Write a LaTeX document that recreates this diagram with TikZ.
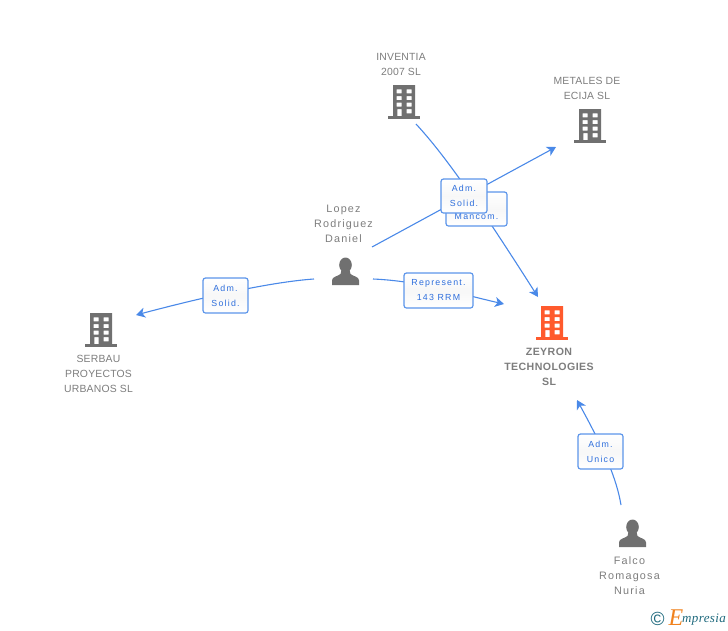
\documentclass[tikz,border=0pt]{standalone}
\usepackage{fontspec}
\setmainfont{Liberation Sans}
\newfontfamily\namefont[LetterSpace=2]{Liberation Sans}
\newfontfamily\lowerfont[LetterSpace=11]{Liberation Sans}
\newfontfamily\boldfont[LetterSpace=4]{Liberation Sans}
\newfontfamily\tagfont[LetterSpace=14]{Liberation Sans}
\newfontfamily\logofont[LetterSpace=3]{Liberation Serif}
\usetikzlibrary{calc, arrows.meta}

\definecolor{linkblue}{RGB}{74,137,232}
\definecolor{tagblue}{RGB}{45,110,220}
\definecolor{icongrey}{RGB}{112,112,112}
\definecolor{textgrey}{RGB}{125,125,125}
\definecolor{zeyronred}{RGB}{255,90,45}
\definecolor{logoteal}{RGB}{30,105,125}
\definecolor{logoorange}{RGB}{240,130,30}

\tikzset{
	link/.style = {draw = linkblue, line width = 1.1pt},
	linkend/.style = {link, -{Stealth[length=9pt, width=10pt, inset=2.5pt]}},
	tag/.style = {draw = linkblue!90, line width = 1.2pt, rounded corners = 2.5pt, top color = white, bottom color = white, middle color = black!3, text = tagblue, align = center, inner sep = 0pt, font = \tagfont\fontsize{8.8}{15}\selectfont},
	namelabel/.style = {text = textgrey, align = center, inner sep = 0pt, font = \namefont\fontsize{10.4}{15}\selectfont},
	personlabel/.style = {namelabel, font = \lowerfont\fontsize{10.8}{15}\selectfont},
	pics/building/.style = {code = {
		\fill [#1, even odd rule] (-11,-17) rectangle (11,14)
			(-7.3,-12.7) rectangle (-2.3,-8.7) (2.7,-12.7) rectangle (7.7,-8.7)
			(-7.3,-6) rectangle (-2.3,-2) (2.7,-6) rectangle (7.7,-2)
			(-7.3,0.7) rectangle (-2.3,4.7) (2.7,0.7) rectangle (7.7,4.7)
			(-6.7,7) rectangle (-2.3,14) (2.7,7) rectangle (7.7,11.3);
		\fill [#1] (-16,14) rectangle (16,16.5);
	}},
	pics/person/.style = {code = {
		\fill [#1] (0,-7) ellipse (6.3 and 7.5);
		\fill [#1] (-13.5,13) -- (-13.5,8.5) .. controls (-13.5,4.5) and (-8,4.5) .. (-5,2) -- (-4,-2) -- (4,-2) -- (5,2) .. controls (8,4.5) and (13.5,4.5) .. (13.5,8.5) -- (13.5,13) -- cycle;
	}}
}

\begin{document}
\begin{tikzpicture}[x = 1pt, y = -1pt]
	\useasboundingbox (0,0) rectangle (728,630);

	% end points of the links
	\coordinate (inventiaout) at (416,124);
	\coordinate (lopezup) at (372,247);
	\coordinate (lopezleft) at (314,279);
	\coordinate (lopezright) at (373,279);
	\coordinate (falcoup) at (621,505);
	\coordinate (metalesin) at (556,147);
	\coordinate (serbauin) at (136,315);
	\coordinate (zeyrontop) at (538,297);
	\coordinate (zeyronleft) at (504,304);
	\coordinate (zeyronlow) at (577,400);

	% links
	\draw [linkend] (inventiaout) .. controls (440,150) and (470,190) .. (zeyrontop);
	\draw [linkend] (lopezup) -- (metalesin);
	\draw [linkend] (lopezleft) .. controls (270,282) and (200,298) .. (serbauin);
	\draw [linkend] (lopezright) .. controls (420,281) and (460,294) .. (zeyronleft);
	\draw [linkend] (falcoup) .. controls (616,475) and (600,442) .. (zeyronlow);

	% tags on the links
	\node [tag, minimum width = 61pt, minimum height = 34pt] (mancom) at (476.5,209) {\phantom{A}\\Mancom.};
	\node [tag, minimum width = 46pt, minimum height = 34pt] (admsolidtop) at (464,196) {Adm.\\Solid.};
	\node [tag, minimum width = 45pt, minimum height = 35pt] (admsolidleft) at (225.5,295.5) {Adm.\\Solid.};
	\node [tag, minimum width = 69pt, minimum height = 35pt] (represent) at (438.5,290.5) {Represent.\\143 RRM};
	\node [tag, minimum width = 45pt, minimum height = 35pt] (admunico) at (600.5,451.5) {Adm.\\Unico};

	% companies
	\pic at (404,102) {building = icongrey};
	\pic at (590,126) {building = icongrey};
	\pic at (101,330) {building = icongrey};
	\pic at (552,323) {building = zeyronred};

	% people
	\pic at (345.5,272) {person = icongrey};
	\pic at (632.5,534) {person = icongrey};

	% names
	\node [namelabel] (inventia) at (401,64) {INVENTIA\\2007 SL};
	\node [namelabel] (metales) at (587,88) {METALES DE\\ECIJA SL};
	\node [namelabel] (serbau) at (98.5,374) {SERBAU\\PROYECTOS\\URBANOS SL};
	\node [personlabel] (lopez) at (343.5,224) {Lopez\\Rodriguez\\Daniel};
	\node [namelabel, font = \boldfont\bfseries\fontsize{10.6}{15}\selectfont] (zeyron) at (549,366.5) {ZEYRON\\TECHNOLOGIES\\SL};
	\node [personlabel] (falco) at (629.5,575.5) {Falco\\Romagosa\\Nuria};

	% logo
	\node [text = logoteal, inner sep = 0pt, font = \fontsize{19}{19}\selectfont] (copyright) at (657.5,619) {\textcopyright};
	\node [text = logoorange, inner sep = 0pt, font = \logofont\itshape\fontsize{24}{24}\selectfont] (logoe) at (676,618) {E};
	\node [text = logoteal, inner sep = 0pt, anchor = west, font = \logofont\itshape\fontsize{13}{15}\selectfont] (logotext) at (682,620) {mpresia};
\end{tikzpicture}
\end{document}
